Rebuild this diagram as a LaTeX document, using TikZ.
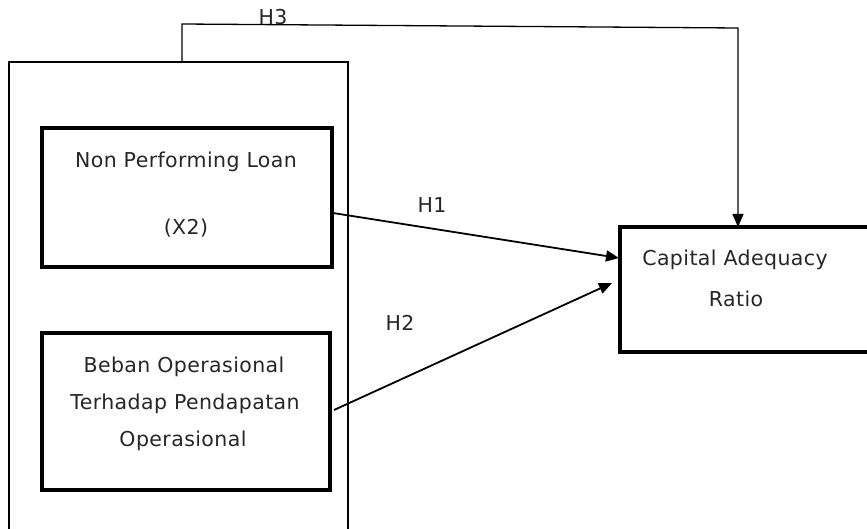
\documentclass[tikz,border=0pt]{standalone}
\usepackage{fontspec}
\setmainfont{DejaVu Sans}[LetterSpace=2]
\usetikzlibrary{arrows.meta}
\begin{document}
\begin{tikzpicture}[x=1pt,y=-1pt,
  thickbox/.style={draw=black,line width=3.5pt,inner sep=0pt},
  lbl/.style={font=\fontsize{20.5}{24}\selectfont,color=black!85,inner sep=0pt},
  conn/.style={line width=1.8pt,-{Triangle[length=13pt,width=11pt]}},
  thinln/.style={line width=1.3pt}]
\useasboundingbox (0,0) rectangle (867,529);
% outer frame
\coordinate (oL) at (9,529);
\coordinate (oTL) at (9,62);
\coordinate (oTR) at (348,62);
\coordinate (oR) at (348,529);
\draw[thinln] (oL) -- (oTL) -- (oTR) -- (oR);
% boxes
\node[thickbox,minimum width=290pt,minimum height=139pt] (npl) at (187,197.5) {};
\node[lbl] (npl1) at (186,162) {Non Performing Loan};
\node[lbl] (npl2) at (186,228) {(X2)};
\node[thickbox,minimum width=288pt,minimum height=157pt] (bo) at (186,411.5) {};
\node[lbl] (bo1) at (184,367) {Beban Operasional};
\node[lbl] (bo2) at (185,404) {Terhadap Pendapatan};
\node[lbl] (bo3) at (183,441) {Operasional};
\node[thickbox,minimum width=260pt,minimum height=125pt] (car) at (750,289.5) {};
\node[lbl] (car1) at (735,260) {Capital Adequacy};
\node[lbl] (car2) at (736,299) {Ratio};
% H3
\coordinate (h3a) at (182,62);
\coordinate (h3b) at (182,24);
\coordinate (h3c) at (738,28);
\coordinate (h3d) at (738,227);
\draw[thinln,-{Triangle[length=13pt,width=11pt]}] (h3a) -- (h3b) -- (h3c) -- (h3d);
\node[lbl] (h3) at (273,17) {H3};
% H1, H2
\coordinate (h1s) at (333,213);
\coordinate (h1e) at (619,258);
\draw[conn] (h1s) -- (h1e);
\node[lbl] (h1) at (432,205) {H1};
\coordinate (h2s) at (334,410);
\coordinate (h2e) at (612,283);
\draw[conn] (h2s) -- (h2e);
\node[lbl] (h2) at (400,323) {H2};
\end{tikzpicture}
\end{document}
